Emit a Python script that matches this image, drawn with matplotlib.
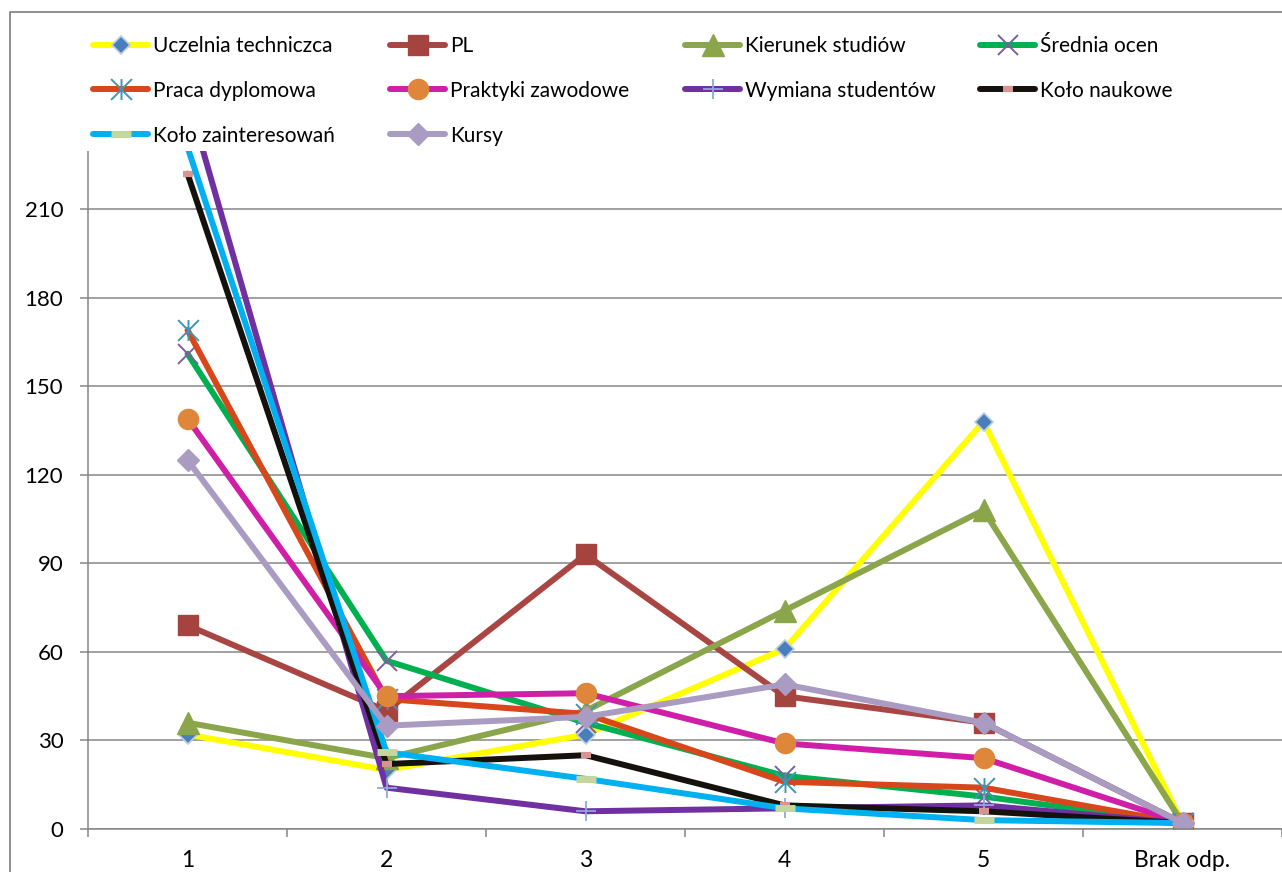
import matplotlib
matplotlib.use('Agg')
import matplotlib.pyplot as plt
from matplotlib.lines import Line2D
from matplotlib.patches import Rectangle
from matplotlib.path import Path

plt.rcParams['font.family'] = 'Lato'

# data
categories = ['1', '2', '3', '4', '5', 'Brak odp.']
uczelnia = [32, 20, 32, 61, 138, 2]
pl = [69, 40, 93, 45, 36, 2]
kierunek = [36, 24, 40, 74, 108, 2]
srednia = [161, 57, 36, 18, 11, 2]
praca = [169, 44, 39, 16, 14, 2]
praktyki = [139, 45, 46, 29, 24, 2]
wymiana = [248, 14, 6, 7, 8, 2]
kolo_naukowe = [222, 22, 25, 8, 6, 2]
kolo_zaint = [231, 26, 17, 7, 3, 2]
kursy = [125, 35, 38, 49, 36, 2]
y_ticks = list(range(0, 271, 30))

W, H = 1282, 872
fig = plt.figure(figsize=(W / 100, H / 100), dpi=100)
ax = fig.add_axes([88 / W, 1 - 829 / H, (W - 88) / W, (829 - 32) / H])

# asterisk marker (vertical bar + x)
asterisk = Path([(0, -1), (0, 1), (-1, -1), (1, 1), (-1, 1), (1, -1)],
                [Path.MOVETO, Path.LINETO, Path.MOVETO, Path.LINETO, Path.MOVETO, Path.LINETO])

x = list(range(len(categories)))
lw = 4.3
common = dict(lw=lw, solid_joinstyle='round', solid_capstyle='round')

series = [
    ('Uczelnia techniczca', uczelnia, dict(color='#FFFF00', marker='D', ms=9.5, mfc='#4A7EBB', mec='#B9CDE5', mew=1.2)),
    ('PL', pl, dict(color='#A94643', marker='s', ms=14, mfc='#A5443F', mec='#A5443F')),
    ('Kierunek studiów', kierunek, dict(color='#8AA54A', marker='^', ms=16, mfc='#8AA54A', mec='#8AA54A')),
    ('Średnia ocen', srednia, dict(color='#00B050', marker='x', ms=14, mec='#7D5FA0', mew=1.4)),
    ('Praca dyplomowa', praca, dict(color='#D8461B', marker=asterisk, ms=15, mec='#3E97B0', mew=1.4)),
    ('Praktyki zawodowe', praktyki, dict(color='#CF1FA9', marker='o', ms=14.5, mfc='#DE8639', mec='#DE8639')),
    ('Wymiana studentów', wymiana, dict(color='#7030A0', marker='+', ms=15, mec='#8EA8D8', mew=1.3)),
    ('Koło naukowe', kolo_naukowe, dict(color='#15120E', marker='_', ms=7, mec='#D79490', mew=4.5)),
    ('Koło zainteresowań', kolo_zaint, dict(color='#00B0F0', marker='_', ms=14, mec='#C3D69B', mew=5)),
    ('Kursy', kursy, dict(color='#A99BC1', marker='D', ms=11.5, mfc='#A99BC1', mec='#A99BC1')),
]

handles = []
for name, vals, style in series:
    line, = ax.plot(x, vals, label=name, **common, **style)
    handles.append(line)

grey = '#868686'
ax.set_xlim(-0.5, len(categories) - 0.5)
ax.set_ylim(0, 270)
ax.set_yticks(y_ticks)
ax.set_xticks([i - 0.5 for i in range(len(categories) + 1)])
ax.set_xticklabels([])
ax.set_xticks(x, minor=True)
ax.set_xticklabels(categories, minor=True)
ax.tick_params(axis='x', which='major', length=5.8, width=1.1, color=grey, direction='out')
ax.tick_params(axis='x', which='minor', length=0, pad=15, labelsize=16.5)
ax.tick_params(axis='y', length=5.8, width=1.1, color=grey, pad=12, labelsize=16)
ax.yaxis.grid(True, color=grey, lw=1.1)
ax.set_axisbelow(True)
for s in ['top', 'right']:
    ax.spines[s].set_visible(False)
for s in ['left', 'bottom']:
    ax.spines[s].set_color(grey)
    ax.spines[s].set_linewidth(1.1)

# chart border (cropped on the right and bottom)
fig.add_artist(Line2D([10 / W, 10 / W, 1], [0, 1 - 12 / H, 1 - 12 / H], color=grey, lw=1.3))

# white legend box over the top of the plot area
fig.add_artist(Rectangle((12 / W, 1 - 151 / H), 1, (151 - 14) / H, facecolor='white', edgecolor='none'))

columns = [[0, 4, 8], [1, 5, 9], [2, 6], [3, 7]]
col_x = [93, 390, 685, 980]
for idx, cx in zip(columns, col_x):
    fig.legend([handles[i] for i in idx], [series[i][0] for i in idx],
               loc='upper left', bbox_to_anchor=(cx / W, 1 - 36 / H),
               frameon=False, borderpad=0, borderaxespad=0, fontsize=15,
               handlelength=2.65, handletextpad=0.25, labelspacing=1.19)

fig.savefig('out.png', dpi=100)
